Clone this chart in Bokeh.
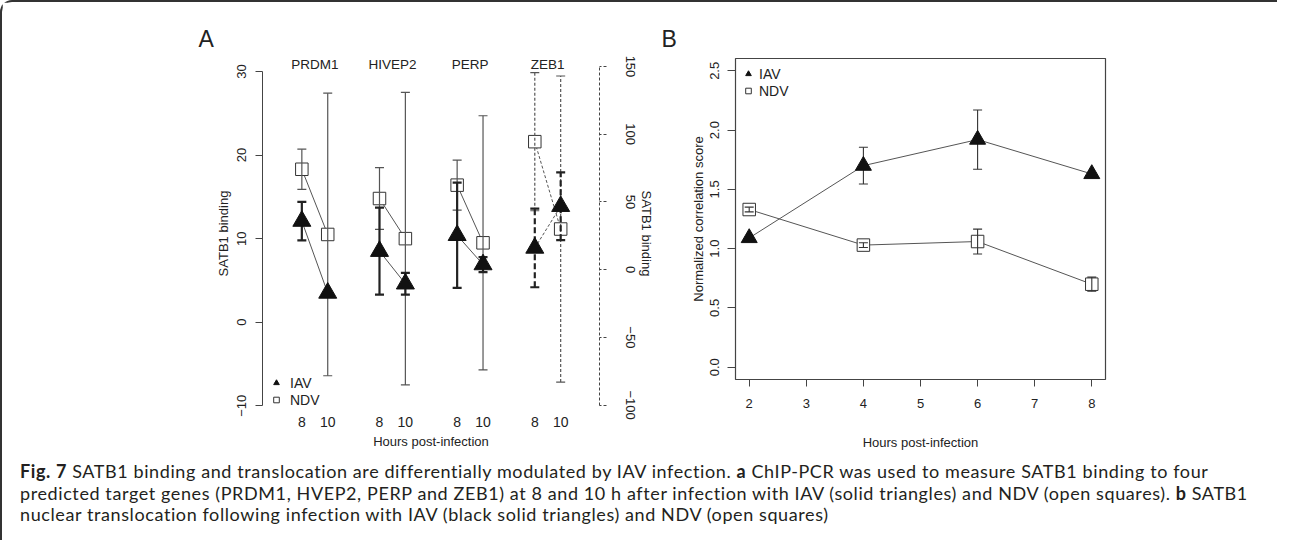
import math
from bokeh.plotting import figure
from bokeh.models import (ColumnDataSource, Whisker, TeeHead, Range1d, LinearAxis, FixedTicker,
                          Legend, LegendItem, Div, NumeralTickFormatter)
from bokeh.layouts import row, column
from bokeh.embed import file_html
from bokeh.resources import INLINE
from bokeh.core.properties import value

# ---------------- data : panel A ----------------
genes = ["PRDM1", "HIVEP2", "PERP", "ZEB1"]
hours_a = [8, 10]
iav_8 = [12.1, 8.5, 10.4, 16.0]
iav_8_err = [2.3, 5.2, 6.3, 29.0]
iav_10 = [3.5, 4.6, 6.9, 46.8]
iav_10_err = [0.0, 1.3, 0.9, 25.0]
ndv_8 = [18.3, 14.8, 16.4, 94.5]
ndv_8_err = [2.4, 3.7, 3.0, 51.0]
ndv_10 = [10.5, 10.0, 9.5, 30.0]
ndv_10_err = [16.9, 17.5, 15.2, 113.0]
left_ticks = [-10, 0, 10, 20, 30]
right_ticks = [-100, -50, 0, 50, 100, 150]

# ---------------- data : panel B ----------------
hours_b = [2, 4, 6, 8]
iav_b = [1.09, 1.70, 1.92, 1.63]
iav_b_err = [0.01, 0.155, 0.25, 0.01]
ndv_b = [1.33, 1.03, 1.06, 0.70]
ndv_b_err = [0.02, 0.02, 0.105, 0.06]
b_xticks = [2, 3, 4, 5, 6, 7, 8]
b_yticks = [0.0, 0.5, 1.0, 1.5, 2.0, 2.5]

FONT = "Liberation Sans"
TXT = "#222222"
GRAY = "#555555"

def style_axis(ax, size="13px"):
    ax.major_label_text_font = FONT
    ax.major_label_text_font_size = size
    ax.major_label_text_color = TXT
    ax.axis_label_text_font = FONT
    ax.axis_label_text_font_size = "13px"
    ax.axis_label_text_font_style = "normal"
    ax.axis_label_text_color = TXT
    ax.axis_line_color = "#444444"
    ax.major_tick_line_color = "#444444"
    ax.minor_tick_line_color = None
    ax.major_tick_in = 0
    ax.major_tick_out = 7

def tee(w, color, dash="solid"):
    return TeeHead(size=9, line_color=color, line_width=w, line_dash=dash)

def panel_title(p, txt, offset, standoff):
    p.title.text = txt
    p.title.align = "left"
    p.title.offset = offset
    p.title.standoff = standoff
    p.title.text_font = FONT
    p.title.text_font_size = "23px"
    p.title.text_font_style = "normal"
    p.title.text_line_height = 0.85
    p.title.text_color = TXT

# ================= Panel A =================
LEFT = (-10.32, 31.55)
R0, K = 6.29, 0.16202   # right-axis zero sits at left value R0; K left units per right unit
pa = figure(frame_width=337, frame_height=350, min_border_left=260, min_border_right=52,
            min_border_top=56, min_border_bottom=44,
            x_range=Range1d(-0.52, 12.5), y_range=Range1d(*LEFT),
            output_backend="svg", toolbar_location=None)
pa.extra_y_ranges = {"zeb": Range1d((LEFT[0] - R0) / K, (LEFT[1] - R0) / K)}
pa.outline_line_color = None
pa.grid.visible = False
panel_title(pa, "A", -64, 13)

n = len(genes)
x8 = [1 + 3 * i for i in range(n)]
x10 = [2 + 3 * i for i in range(n)]
L = n - 1  # genes on the left axis

# x axis
xa = pa.xaxis[0]
style_axis(xa, "14px")
xa.ticker = FixedTicker(ticks=x8 + x10)
xa.major_label_overrides = {**{x: str(hours_a[0]) for x in x8}, **{x: str(hours_a[1]) for x in x10}}
xa.axis_line_color = None
xa.major_tick_line_color = None
xa.major_tick_out = 0
xa.major_label_standoff = 8
xa.axis_label = "Hours post-infection"
xa.axis_label_standoff = 4

# left axis
ya = pa.yaxis[0]
style_axis(ya)
ya.ticker = FixedTicker(ticks=left_ticks)
ya.bounds = (left_ticks[0], left_ticks[-1])
ya.major_label_orientation = "vertical"
ya.major_label_standoff = 9
ya.axis_label = "SATB1 binding"
ya.axis_label_standoff = 4

# right axis (ZEB1)
ra = LinearAxis(y_range_name="zeb")
style_axis(ra)
ra.ticker = FixedTicker(ticks=right_ticks)
ra.bounds = (right_ticks[0], right_ticks[-1])
ra.axis_line_dash = "3 2"
ra.major_tick_line_dash = "3 2"
ra.major_label_orientation = "vertical"
ra.major_label_standoff = 19
ra.axis_label = "SATB1 binding"
ra.axis_label_standoff = 1
pa.add_layout(ra, "right")

# connecting lines
pa.multi_line(xs=[[x8[i], x10[i]] for i in range(L)], ys=[[iav_8[i], iav_10[i]] for i in range(L)],
              line_color=GRAY, line_width=1)
pa.multi_line(xs=[[x8[i], x10[i]] for i in range(L)], ys=[[ndv_8[i], ndv_10[i]] for i in range(L)],
              line_color=GRAY, line_width=1)
pa.line([x8[L], x10[L]], [iav_8[L], iav_10[L]], y_range_name="zeb", line_color=GRAY,
        line_width=1, line_dash="3 2")
pa.line([x8[L], x10[L]], [ndv_8[L], ndv_10[L]], y_range_name="zeb", line_color=GRAY,
        line_width=1, line_dash="3 2")

# squares (NDV)
sq_left = pa.scatter(x8[:L] + x10[:L], ndv_8[:L] + ndv_10[:L], marker="square", size=12.5,
                     fill_color="white", line_color="#333333", line_width=1)
pa.scatter([x8[L], x10[L]], [ndv_8[L], ndv_10[L]], y_range_name="zeb", marker="square", size=12.5,
           fill_color="white", line_color="#333333", line_width=1)

# error bars
def add_whisker(p, xs, ys, es, color, width, dash="solid", rng="default"):
    src = ColumnDataSource(dict(x=xs, u=[y + e for y, e in zip(ys, es)], l=[y - e for y, e in zip(ys, es)]))
    w = Whisker(base="x", upper="u", lower="l", source=src, dimension="height",
                line_color=color, line_width=width, line_dash=dash,
                upper_head=tee(width, color), lower_head=tee(width, color),
                y_range_name=rng, level="glyph")
    p.renderers.append(w)

add_whisker(pa, x8[:L] + x10[:L], ndv_8[:L] + ndv_10[:L], ndv_8_err[:L] + ndv_10_err[:L], GRAY, 1.2)
add_whisker(pa, x8[:L] + x10[:L], iav_8[:L] + iav_10[:L], iav_8_err[:L] + iav_10_err[:L], "#222222", 2.2)
add_whisker(pa, [x8[L], x10[L]], [ndv_8[L], ndv_10[L]], [ndv_8_err[L], ndv_10_err[L]], GRAY, 1.2,
            "3 2", "zeb")
add_whisker(pa, [x8[L], x10[L]], [iav_8[L], iav_10[L]], [iav_8_err[L], iav_10_err[L]], "#222222", 2.2,
            "6 3", "zeb")

# triangles (IAV)
tri_left = pa.scatter(x8[:L] + x10[:L], iav_8[:L] + iav_10[:L], marker="triangle", size=18,
                      fill_color="#111111", line_color="#111111")
pa.scatter([x8[L], x10[L]], [iav_8[L], iav_10[L]], y_range_name="zeb", marker="triangle", size=18,
           fill_color="#111111", line_color="#111111")

# gene titles
pa.text(x=[1.5 + 3 * i for i in range(n)], y=[30.85] * n, text=genes, text_align="center",
        text_baseline="middle", text_font=value(FONT), text_font_size="13.5px", text_color=TXT)

# legend
lg_a = Legend(items=[LegendItem(label="IAV", renderers=[tri_left]),
                     LegendItem(label="NDV", renderers=[sq_left])],
              location=(7, 0), border_line_color=None, background_fill_alpha=0,
              glyph_height=17, glyph_width=14, label_height=17, spacing=0, padding=0, margin=0,
              label_standoff=7, label_text_font=FONT, label_text_font_size="14px",
              label_text_color=TXT)
pa.add_layout(lg_a)

# ================= Panel B =================
pb = figure(frame_width=370, frame_height=321, min_border_left=79, min_border_right=172,
            min_border_top=56, min_border_bottom=73,
            x_range=Range1d(1.76, 8.24), y_range=Range1d(-0.104, 2.604),
            output_backend="svg", toolbar_location=None)
pb.grid.visible = False
pb.outline_line_color = "#444444"
pb.outline_line_width = 1.2
panel_title(pb, "B", -74, 13)

bx = pb.xaxis[0]
style_axis(bx)
bx.ticker = FixedTicker(ticks=b_xticks)
bx.axis_line_color = None
bx.major_label_standoff = 12
bx.axis_label = "Hours post-infection"
bx.axis_label_standoff = 24

by = pb.yaxis[0]
style_axis(by)
by.ticker = FixedTicker(ticks=b_yticks)
by.formatter = NumeralTickFormatter(format="0.0")
by.axis_line_color = None
by.major_tick_out = 8
by.major_label_orientation = "vertical"
by.major_label_standoff = 8
by.axis_label = "Normalized correlation score"
by.axis_label_standoff = 2

pb.line(hours_b, iav_b, line_color=GRAY, line_width=1)
pb.line(hours_b, ndv_b, line_color=GRAY, line_width=1)
sq_b = pb.scatter(hours_b, ndv_b, marker="square", size=12.5, fill_color="white",
                  line_color="#333333", line_width=1)
add_whisker(pb, hours_b, ndv_b, ndv_b_err, "#333333", 1.1)
add_whisker(pb, hours_b, iav_b, iav_b_err, "#333333", 1.1)
tri_b = pb.scatter(hours_b, iav_b, marker="triangle", size=16, fill_color="#111111",
                   line_color="#111111")

lg_b = Legend(items=[LegendItem(label="IAV", renderers=[tri_b]),
                     LegendItem(label="NDV", renderers=[sq_b])],
              location=(6, 280), border_line_color=None, background_fill_alpha=0,
              glyph_height=17, glyph_width=14, label_height=17, spacing=0, padding=0, margin=0,
              label_standoff=4, label_text_font=FONT, label_text_font_size="14px",
              label_text_color=TXT)
pb.add_layout(lg_b)

# ================= Caption =================
caption = ("<div style=\"font-family:'Lato';font-size:18px;line-height:21.7px;letter-spacing:0.6px;"
           "color:#231f20;white-space:nowrap;padding-left:13px;padding-top:4px;\">"
           "<b>Fig. 7</b> SATB1 binding and translocation are differentially modulated by IAV infection. "
           "<b>a</b> ChIP-PCR was used to measure SATB1 binding to four<br>"
           "predicted target genes (PRDM1, HVEP2, PERP and ZEB1) at 8 and 10 h after infection with IAV "
           "(solid triangles) and NDV (open squares). <b>b</b> SATB1<br>"
           "nuclear translocation following infection with IAV (black solid triangles) and NDV (open squares)"
           "</div>")
cap = Div(text=caption, width=1264, height=78)

layout = column(row(pa, pb), cap,
                styles={"border-left": "2px solid #333", "border-top": "2px solid #333",
                        "border-top-left-radius": "12px"})

open("out.html", "w").write(file_html(layout, INLINE))
